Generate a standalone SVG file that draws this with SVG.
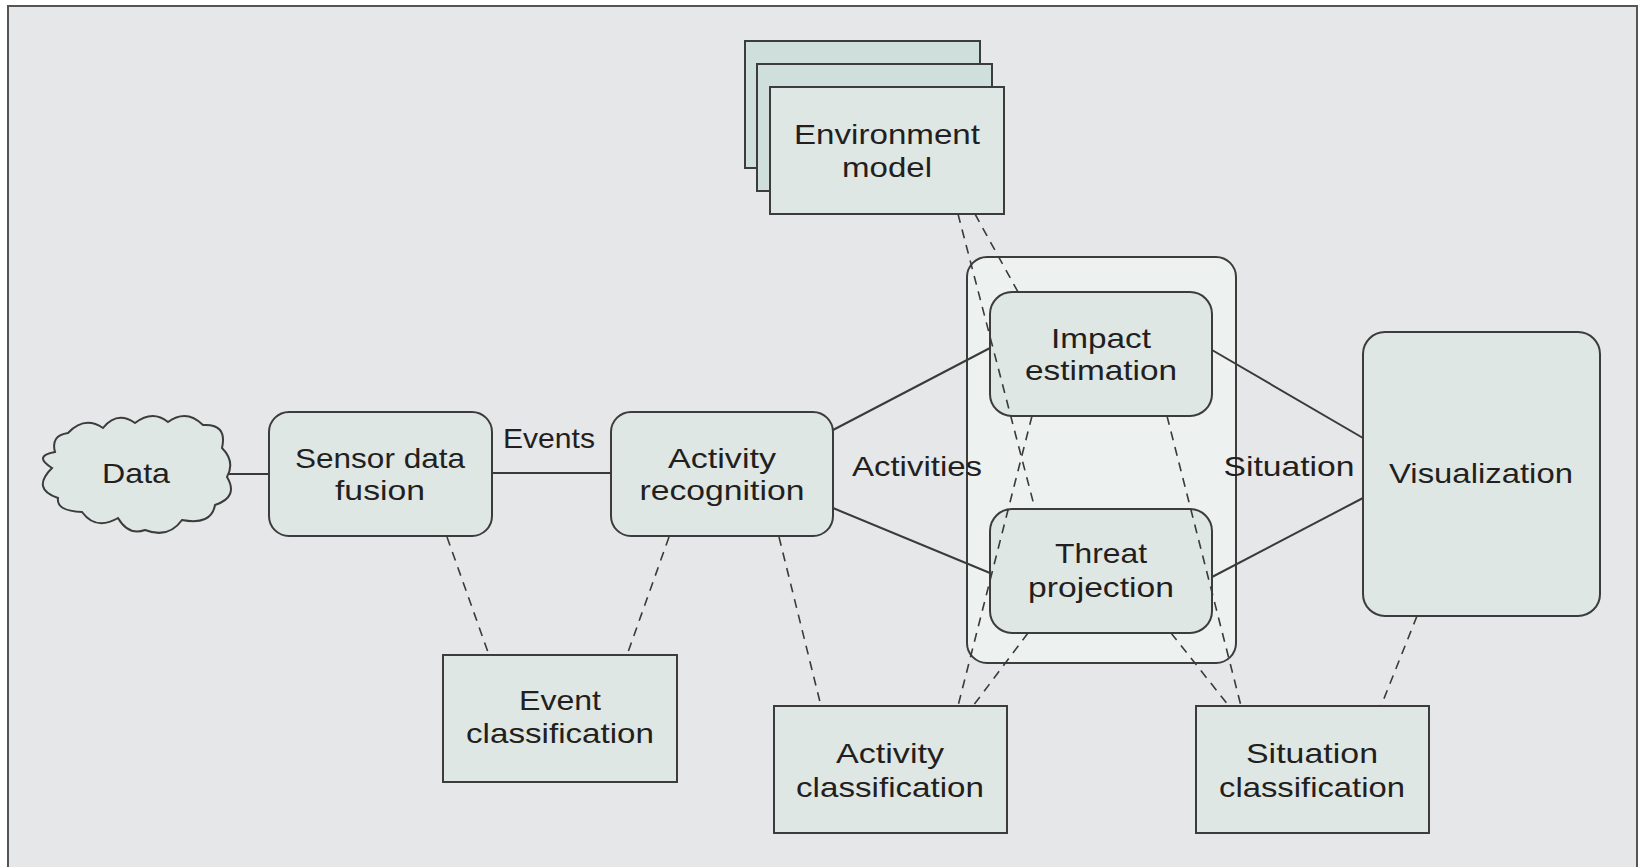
<svg xmlns="http://www.w3.org/2000/svg" width="1638" height="867" viewBox="0 0 1638 867">
  <style>
    .box { fill: #dfe7e4; stroke: #3c3c3c; stroke-width: 2; }
    .sheet { fill: #cfe0dc; stroke: #3c3c3c; stroke-width: 2; }
    .group { fill: #edf2f1; stroke: #3c3c3c; stroke-width: 2; }
    .lbl { font-family: "Liberation Sans", Arial, sans-serif; font-size: 28px; fill: #231f20; text-anchor: middle; }
    .solid { stroke: #3a3a3a; stroke-width: 2; fill: none; }
    .dash { stroke: #3a3a3a; stroke-width: 1.6; fill: none; stroke-dasharray: 9 7; }
  </style>

  <!-- page background and frame -->
  <rect x="0" y="0" width="1638" height="867" fill="#ffffff"/>
  <rect x="8" y="6" width="1629" height="880" fill="#e6e7e8" stroke="#555555" stroke-width="2"/>

  <!-- situation assessment container -->
  <g id="assessment-group">
    <rect class="group" x="967" y="257" width="269" height="406" rx="20"/>
  </g>

  <g id="data">
    <path class="box" d="M68,433 Q84.5,415.5 103,428 Q117,410.5 135,423 Q152.5,409.5 168,422 Q186.5,408.5 203,425 Q227.5,423.5 222,448 Q235.5,461.5 227,477 Q239,497 215,505 Q211.5,525.5 182,520 Q168.5,539 145,530 Q128.5,536 118,518 Q96,531 82,512 Q56,511 58,498 Q31,489 52,468 Q32.5,456 55,452 Q50.5,435.5 68,433 Z"/>
    <text class="lbl" x="136" y="483" textLength="68" lengthAdjust="spacingAndGlyphs">Data</text>
  </g>

  <g id="sensor-data-fusion">
    <rect class="box" x="269" y="412" width="223" height="124" rx="20"/>
    <text class="lbl" x="380" y="468" textLength="170" lengthAdjust="spacingAndGlyphs">Sensor data</text>
    <text class="lbl" x="380" y="500" textLength="90" lengthAdjust="spacingAndGlyphs">fusion</text>
  </g>

  <g id="activity-recognition">
    <rect class="box" x="611" y="412" width="222" height="124" rx="20"/>
    <text class="lbl" x="722" y="468" textLength="108" lengthAdjust="spacingAndGlyphs">Activity</text>
    <text class="lbl" x="722" y="500" textLength="165" lengthAdjust="spacingAndGlyphs">recognition</text>
  </g>

  <g id="event-classification">
    <rect class="box" x="443" y="655" width="234" height="127"/>
    <text class="lbl" x="560" y="710" textLength="82" lengthAdjust="spacingAndGlyphs">Event</text>
    <text class="lbl" x="560" y="743" textLength="188" lengthAdjust="spacingAndGlyphs">classification</text>
  </g>

  <g id="activity-classification">
    <rect class="box" x="774" y="706" width="233" height="127"/>
    <text class="lbl" x="890" y="763" textLength="108" lengthAdjust="spacingAndGlyphs">Activity</text>
    <text class="lbl" x="890" y="797" textLength="188" lengthAdjust="spacingAndGlyphs">classification</text>
  </g>

  <g id="situation-classification">
    <rect class="box" x="1196" y="706" width="233" height="127"/>
    <text class="lbl" x="1312" y="763" textLength="132" lengthAdjust="spacingAndGlyphs">Situation</text>
    <text class="lbl" x="1312" y="797" textLength="186" lengthAdjust="spacingAndGlyphs">classification</text>
  </g>

  <g id="environment-model">
    <rect class="sheet" x="745" y="41" width="235" height="127"/>
    <rect class="sheet" x="757" y="64" width="235" height="127"/>
    <rect class="box" x="770" y="87" width="234" height="127"/>
    <text class="lbl" x="887" y="144" textLength="186" lengthAdjust="spacingAndGlyphs">Environment</text>
    <text class="lbl" x="887" y="177" textLength="90" lengthAdjust="spacingAndGlyphs">model</text>
  </g>

  <g id="impact-estimation">
    <rect class="box" x="990" y="292" width="222" height="124" rx="22"/>
    <text class="lbl" x="1101" y="348" textLength="100" lengthAdjust="spacingAndGlyphs">Impact</text>
    <text class="lbl" x="1101" y="380" textLength="152" lengthAdjust="spacingAndGlyphs">estimation</text>
  </g>

  <g id="threat-projection">
    <rect class="box" x="990" y="509" width="222" height="124" rx="22"/>
    <text class="lbl" x="1101" y="563" textLength="92" lengthAdjust="spacingAndGlyphs">Threat</text>
    <text class="lbl" x="1101" y="597" textLength="146" lengthAdjust="spacingAndGlyphs">projection</text>
  </g>

  <g id="visualization">
    <rect class="box" x="1363" y="332" width="237" height="284" rx="22"/>
    <text class="lbl" x="1481" y="483" textLength="184" lengthAdjust="spacingAndGlyphs">Visualization</text>
  </g>

  <g id="connectors">
    <!-- data flow -->
    <line class="solid" x1="228" y1="474" x2="269" y2="474"/>
    <line class="solid" x1="492" y1="473" x2="611" y2="473"/>
    <line class="solid" x1="833" y1="430" x2="990" y2="348"/>
    <line class="solid" x1="833" y1="508" x2="990" y2="573"/>
    <line class="solid" x1="1212" y1="350" x2="1363" y2="438"/>
    <line class="solid" x1="1212" y1="577" x2="1363" y2="498"/>

    <!-- knowledge links -->
    <line class="dash" x1="447" y1="537" x2="489" y2="655"/>
    <line class="dash" x1="669" y1="537" x2="627" y2="655"/>
    <line class="dash" x1="779" y1="537" x2="821" y2="706"/>
    <line class="dash" x1="958" y1="214" x2="1035" y2="509"/>
    <line class="dash" x1="975" y1="214" x2="1018" y2="292"/>
    <line class="dash" x1="1032" y1="416" x2="958" y2="706"/>
    <line class="dash" x1="1028" y1="633" x2="973" y2="706"/>
    <line class="dash" x1="1167" y1="416" x2="1241" y2="706"/>
    <line class="dash" x1="1171" y1="633" x2="1229" y2="706"/>
    <line class="dash" x1="1417" y1="616" x2="1381" y2="706"/>

    <!-- flow labels -->
    <text class="lbl" x="549" y="448" textLength="92" lengthAdjust="spacingAndGlyphs">Events</text>
    <text class="lbl" x="917" y="476" textLength="130" lengthAdjust="spacingAndGlyphs">Activities</text>
    <text class="lbl" x="1289" y="476" textLength="131" lengthAdjust="spacingAndGlyphs">Situation</text>
  </g>
</svg>
